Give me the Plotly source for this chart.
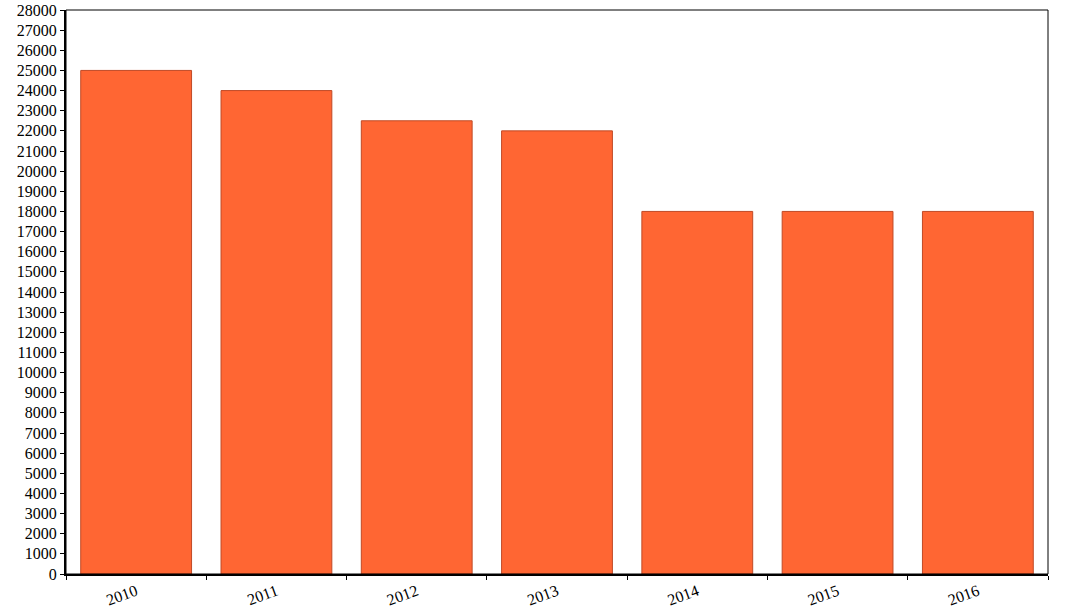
import plotly.graph_objects as go

years = ["2010", "2011", "2012", "2013", "2014", "2015", "2016"]
values = [25000, 24000, 22500, 22000, 18000, 18000, 18000]

fig = go.Figure()

fig.add_trace(go.Bar(
    x=years,
    y=values,
    marker=dict(color="#FF6633", line=dict(color="#C04A26", width=1)),
))

# thin frame on top and right
fig.add_shape(type="rect", xref="paper", yref="paper", x0=0, y0=0, x1=1, y1=1,
              line=dict(color="black", width=1), layer="above")

fig.update_layout(
    width=1066,
    height=615,
    margin=dict(l=66, r=18, t=10, b=41),
    paper_bgcolor="white",
    plot_bgcolor="white",
    font=dict(family="Liberation Serif, Times New Roman, serif", size=16, color="black"),
    bargap=0.21,
    showlegend=False,
    xaxis=dict(
        type="category",
        automargin=False,
        showgrid=False,
        showline=True,
        linecolor="black",
        linewidth=2,
        ticks="outside",
        tickson="boundaries",
        ticklen=4,
        tickcolor="black",
        tickangle=-20,
    ),
    yaxis=dict(
        range=[0, 28000],
        dtick=1000,
        tickformat="d",
        automargin=False,
        showgrid=False,
        zeroline=False,
        showline=True,
        linecolor="black",
        linewidth=2,
        ticks="outside",
        ticklen=4,
        tickcolor="black",
    ),
)

# drop the page's default body margin so the chart sits at the window corner
fig.write_html("out.html", config={"displayModeBar": False},
               post_script="document.body.style.margin='0px';")
